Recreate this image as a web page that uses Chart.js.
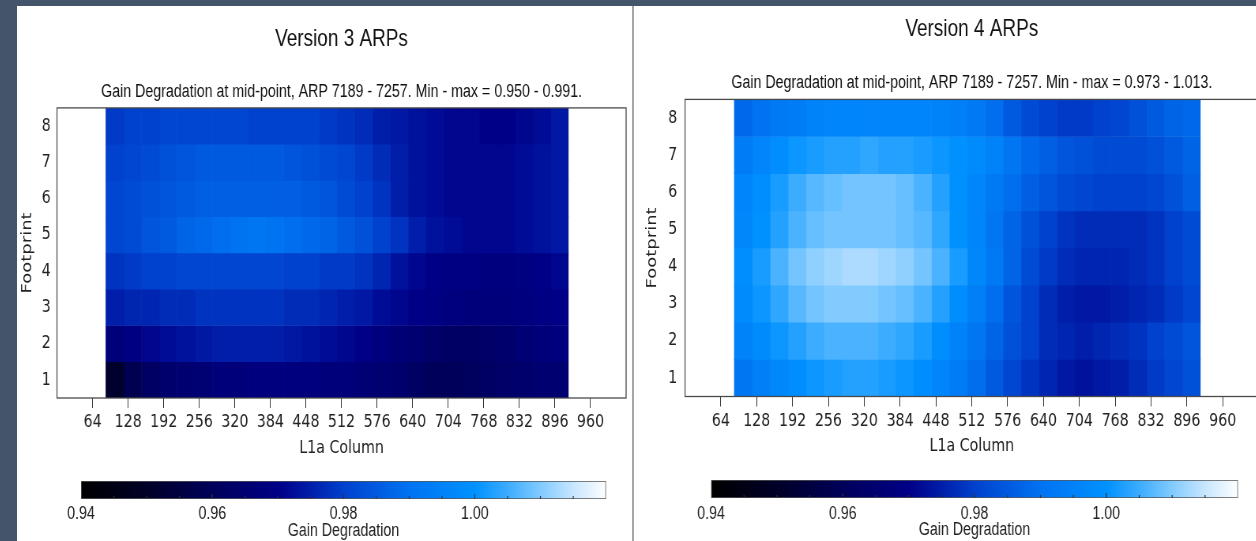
<!DOCTYPE html>
<html>
<head>
<meta charset="utf-8">
<script src="https://cdn.jsdelivr.net/npm/chart.js@4.4.1/dist/chart.umd.min.js"></script>
<style>
  html, body { margin: 0; padding: 0; }
  body { width: 1256px; height: 541px; background: #44546a; position: relative; overflow: hidden; }
  .panel { position: absolute; top: 6px; height: 535px; background: #fff; overflow: hidden; }
  .squeeze { position: absolute; left: 0; transform: scaleX(0.79); transform-origin: 0 0; }
</style>
</head>
<body>
<div class="panel" style="left:17px;width:615px">
  <div class="squeeze" style="top:0"><canvas id="heat3" width="779" height="460"></canvas></div>
  <div class="squeeze" style="top:460px"><canvas id="bar3" width="779" height="76"></canvas></div>
</div>
<div style="position:absolute;left:632px;top:6px;width:2px;height:535px;background:#a3a7ad"></div>
<div class="panel" style="left:634px;width:622px">
  <div class="squeeze" style="top:0"><canvas id="heat4" width="800" height="460"></canvas></div>
  <div class="squeeze" style="top:460px"><canvas id="bar4" width="800" height="76"></canvas></div>
</div>
<script>
// footprints (rows) and L1a column cells (centres, 32 columns wide)
const footprints = [1, 2, 3, 4, 5, 6, 7, 8];
const l1aColumns = [104, 136, 168, 200, 232, 264, 296, 328, 360, 392, 424, 456, 488,
                    520, 552, 584, 616, 648, 680, 712, 744, 776, 808, 840, 872, 904];
const cellWidth = 32;
const xTickValues = [64, 128, 192, 256, 320, 384, 448, 512, 576, 640, 704, 768, 832, 896, 960];

// gain degradation, one row per footprint (1 = bottom)
const v3Gain = [
  [0.951,0.958,0.962,0.964,0.965,0.966,0.967,0.967,0.968,0.968,0.968,0.968,0.967,0.967,0.966,0.965,0.964,0.962,0.960,0.960,0.961,0.962,0.963,0.964,0.965,0.965],
  [0.967,0.969,0.971,0.972,0.973,0.974,0.975,0.975,0.975,0.975,0.974,0.973,0.972,0.971,0.970,0.968,0.966,0.965,0.963,0.962,0.962,0.963,0.964,0.966,0.967,0.968],
  [0.975,0.976,0.976,0.977,0.977,0.978,0.978,0.978,0.978,0.978,0.977,0.977,0.976,0.975,0.974,0.972,0.971,0.970,0.969,0.968,0.967,0.967,0.967,0.968,0.969,0.970],
  [0.978,0.979,0.980,0.980,0.981,0.981,0.981,0.981,0.981,0.981,0.980,0.980,0.979,0.979,0.978,0.976,0.973,0.971,0.970,0.969,0.969,0.968,0.968,0.969,0.970,0.971],
  [0.981,0.982,0.984,0.985,0.987,0.988,0.989,0.990,0.991,0.990,0.989,0.988,0.987,0.985,0.983,0.980,0.978,0.975,0.973,0.972,0.971,0.971,0.971,0.972,0.973,0.974],
  [0.981,0.982,0.983,0.984,0.985,0.986,0.986,0.986,0.986,0.986,0.986,0.985,0.984,0.982,0.980,0.978,0.975,0.973,0.972,0.971,0.971,0.971,0.971,0.972,0.973,0.974],
  [0.980,0.981,0.982,0.983,0.984,0.985,0.985,0.985,0.985,0.985,0.984,0.983,0.982,0.981,0.979,0.977,0.975,0.973,0.972,0.971,0.971,0.971,0.971,0.972,0.973,0.974],
  [0.979,0.980,0.980,0.981,0.981,0.981,0.981,0.981,0.980,0.980,0.980,0.980,0.979,0.978,0.977,0.975,0.974,0.973,0.972,0.971,0.971,0.970,0.970,0.971,0.972,0.974]
];
const v4Gain = [
  [0.991,0.994,0.997,0.999,1.001,1.002,1.003,1.003,1.002,1.001,0.999,0.996,0.993,0.989,0.985,0.981,0.978,0.976,0.974,0.973,0.974,0.975,0.977,0.979,0.981,0.983],
  [0.995,0.998,1.001,1.003,1.005,1.006,1.006,1.006,1.005,1.004,1.002,0.999,0.995,0.991,0.987,0.983,0.980,0.977,0.976,0.975,0.976,0.977,0.978,0.980,0.982,0.984],
  [0.998,1.001,1.004,1.007,1.009,1.010,1.010,1.010,1.009,1.008,1.006,1.003,0.999,0.994,0.989,0.984,0.980,0.977,0.975,0.974,0.974,0.975,0.976,0.977,0.979,0.981],
  [0.999,1.002,1.006,1.009,1.011,1.012,1.013,1.013,1.012,1.011,1.009,1.006,1.002,0.997,0.992,0.987,0.982,0.979,0.977,0.976,0.976,0.976,0.977,0.978,0.980,0.982],
  [0.997,1.000,1.003,1.006,1.008,1.009,1.009,1.009,1.009,1.008,1.007,1.004,1.000,0.996,0.991,0.987,0.983,0.980,0.978,0.977,0.977,0.977,0.977,0.978,0.980,0.982],
  [0.996,0.999,1.002,1.005,1.007,1.008,1.009,1.009,1.009,1.008,1.006,1.003,1.000,0.996,0.992,0.989,0.986,0.984,0.982,0.981,0.980,0.980,0.980,0.981,0.983,0.986],
  [0.993,0.996,0.999,1.001,1.002,1.003,1.003,1.004,1.003,1.003,1.002,1.001,1.000,0.998,0.995,0.991,0.988,0.986,0.984,0.983,0.982,0.982,0.982,0.983,0.985,0.987],
  [0.988,0.990,0.992,0.993,0.995,0.996,0.996,0.996,0.996,0.996,0.996,0.995,0.994,0.992,0.989,0.985,0.982,0.980,0.979,0.979,0.980,0.981,0.983,0.985,0.987,0.988]
];

// colour bar
const cbMin = 0.94, cbMax = 1.02;
const cbLabelValues = [0.94, 0.96, 0.98, 1.00];
const cbMinorValues = [0.945, 0.95, 0.955, 0.96, 0.965, 0.97, 0.975, 0.98, 0.985, 0.99, 0.995, 1.00, 1.005, 1.01, 1.015];

// colour map: black -> navy -> blue -> azure -> white
const cmapValues = [0.94, 0.95, 0.96, 0.97, 0.975, 0.98, 0.99, 1.00, 1.005, 1.01, 1.015, 1.02];
const cmapColors = [[0,0,0],[0,0,40],[0,0,90],[0,0,135],[0,30,170],[0,65,205],[0,115,242],[0,145,255],[60,172,255],[130,203,255],[200,230,255],[255,255,255]];

function gainColor(v) {
  if (v <= cmapValues[0]) return 'rgb(0,0,0)';
  for (let i = 1; i < cmapValues.length; i++) {
    if (v <= cmapValues[i]) {
      const t = (v - cmapValues[i - 1]) / (cmapValues[i] - cmapValues[i - 1]);
      const a = cmapColors[i - 1], b = cmapColors[i];
      return 'rgb(' + a.map((c, j) => Math.round(c + (b[j] - c) * t)).join(',') + ')';
    }
  }
  return 'rgb(255,255,255)';
}

Chart.defaults.font.family = "'DejaVu Sans', sans-serif";
Chart.defaults.color = '#222';

// box around the plot area
const frame = {
  id: 'frame',
  afterDatasetsDraw(chart) {
    const { ctx, chartArea: a } = chart;
    ctx.save();
    ctx.strokeStyle = '#4a4a4a';
    ctx.lineWidth = 1.3;
    ctx.strokeRect(a.left, a.top, a.right - a.left, a.bottom - a.top);
    ctx.restore();
  }
};

function buildHeat(id, title, subtitle, rows, L) {
  const datasets = l1aColumns.map((col, k) => ({
    data: footprints.map(() => [col - cellWidth / 2, col + cellWidth / 2]),
    backgroundColor: footprints.map((f, r) => gainColor(rows[r][k])),
    borderWidth: 0,
    barPercentage: 1,
    categoryPercentage: 1,
    grouped: false
  }));

  return new Chart(document.getElementById(id), {
    type: 'bar',
    data: { labels: footprints.map(String), datasets },
    options: {
      indexAxis: 'y',
      responsive: false,
      animation: false,
      events: [],
      layout: { padding: { left: 0, right: L.padRight, top: 0, bottom: 0 } },
      plugins: {
        legend: { display: false },
        tooltip: { enabled: false },
        title: {
          display: true, text: title, fullSize: false, color: '#111',
          font: { family: "'Liberation Sans', Arial, sans-serif", size: 24, weight: 'normal' },
          padding: { top: L.titleTop, bottom: 0 }
        },
        subtitle: {
          display: true, text: subtitle, fullSize: false, color: '#111',
          font: { family: "'Liberation Sans', Arial, sans-serif", size: 18, weight: 'normal' },
          padding: { top: L.subTop, bottom: L.subBottom }
        }
      },
      scales: {
        x: {
          type: 'linear', min: 0, max: 1024,
          afterBuildTicks: s => { s.ticks = xTickValues.map(v => ({ value: v })); },
          afterFit: s => { s.height = L.xHeight; },
          grid: { drawOnChartArea: false, tickLength: 10, color: '#333' },
          border: { display: false },
          ticks: { padding: L.xTickPad, font: { size: 18 }, maxRotation: 0, autoSkip: false },
          title: { display: true, text: 'L1a Column', font: { size: 18 }, padding: { top: 0, bottom: L.xTitleBottom } }
        },
        y: {
          reverse: true,
          afterFit: s => { s.width = L.yWidth; },
          grid: { display: false, drawTicks: false },
          border: { display: false },
          ticks: { padding: L.yTickPad, font: { size: 18 } },
          title: { display: true, text: 'Footprint', font: { size: 18 }, padding: { top: L.yTitlePad, bottom: 0 } }
        }
      }
    },
    plugins: [frame]
  });
}

// little ticks inside the bottom of the colour bar
const cbTicks = {
  id: 'cbTicks',
  afterDatasetsDraw(chart) {
    const { ctx, chartArea: a, scales: { x } } = chart;
    ctx.save();
    ctx.strokeStyle = '#333';
    ctx.lineWidth = 1.2;
    cbMinorValues.forEach(v => {
      const px = x.getPixelForValue(v);
      const len = cbLabelValues.some(m => Math.abs(m - v) < 1e-9) ? 5 : 3;
      ctx.beginPath();
      ctx.moveTo(px, a.bottom);
      ctx.lineTo(px, a.bottom - len);
      ctx.stroke();
    });
    ctx.restore();
  }
};

function buildBar(id, L) {
  return new Chart(document.getElementById(id), {
    type: 'bar',
    data: {
      labels: ['Gain'],
      datasets: [{
        data: [[cbMin, cbMax]],
        backgroundColor: ctx => {
          const chart = ctx.chart;
          if (!chart.chartArea) return '#000';
          const x = chart.scales.x;
          const x0 = x.getPixelForValue(cbMin), x1 = x.getPixelForValue(cbMax);
          const g = chart.ctx.createLinearGradient(x0, 0, x1, 0);
          cmapValues.forEach(v => g.addColorStop((v - cbMin) / (cbMax - cbMin), gainColor(v)));
          return g;
        },
        borderColor: '#555',
        borderWidth: 1.2,
        borderSkipped: false,
        barPercentage: 1,
        categoryPercentage: 1
      }]
    },
    options: {
      indexAxis: 'y',
      responsive: false,
      animation: false,
      events: [],
      layout: { padding: { left: L.left, right: L.right, top: L.top, bottom: 0 } },
      plugins: { legend: { display: false }, tooltip: { enabled: false } },
      scales: {
        x: {
          type: 'linear', min: cbMin, max: cbMax,
          afterBuildTicks: s => { s.ticks = cbLabelValues.map(v => ({ value: v })); },
          afterFit: s => { s.height = L.xHeight; },
          grid: { display: false, drawTicks: false },
          border: { display: false },
          ticks: {
            padding: L.tickPad, maxRotation: 0, autoSkip: false,
            font: { family: "'Liberation Sans', Arial, sans-serif", size: 18 },
            callback: v => v.toFixed(2)
          },
          title: {
            display: true, text: 'Gain Degradation',
            font: { family: "'Liberation Sans', Arial, sans-serif", size: 18 },
            padding: { top: 0, bottom: L.titleBottom }
          }
        },
        y: { display: false }
      }
    },
    plugins: [cbTicks]
  });
}

buildHeat('heat3', 'Version 3 ARPs',
  'Gain Degradation at mid-point, ARP 7189 - 7257. Min - max = 0.950 - 0.991.', v3Gain,
  { padRight: 8, titleTop: 19, subTop: 27, subBottom: 5.5, xHeight: 68, xTickPad: 4, xTitleBottom: 7, yWidth: 50.6, yTickPad: 8, yTitlePad: 3 });

buildHeat('heat4', 'Version 4 ARPs',
  'Gain Degradation at mid-point, ARP 7189 - 7257. Min - max = 0.973 - 1.013.', v4Gain,
  { padRight: 9.4, titleTop: 8.5, subTop: 28.5, subBottom: 6, xHeight: 69.5, xTickPad: 4, xTitleBottom: 9, yWidth: 64.6, yTickPad: 10, yTitlePad: 13 });

buildBar('bar3', { left: 81, right: 33.4, top: 15, xHeight: 43, tickPad: 4, titleBottom: 0 });
buildBar('bar4', { left: 97.5, right: 35.4, top: 14, xHeight: 44, tickPad: 5, titleBottom: 1 });
</script>
</body>
</html>
